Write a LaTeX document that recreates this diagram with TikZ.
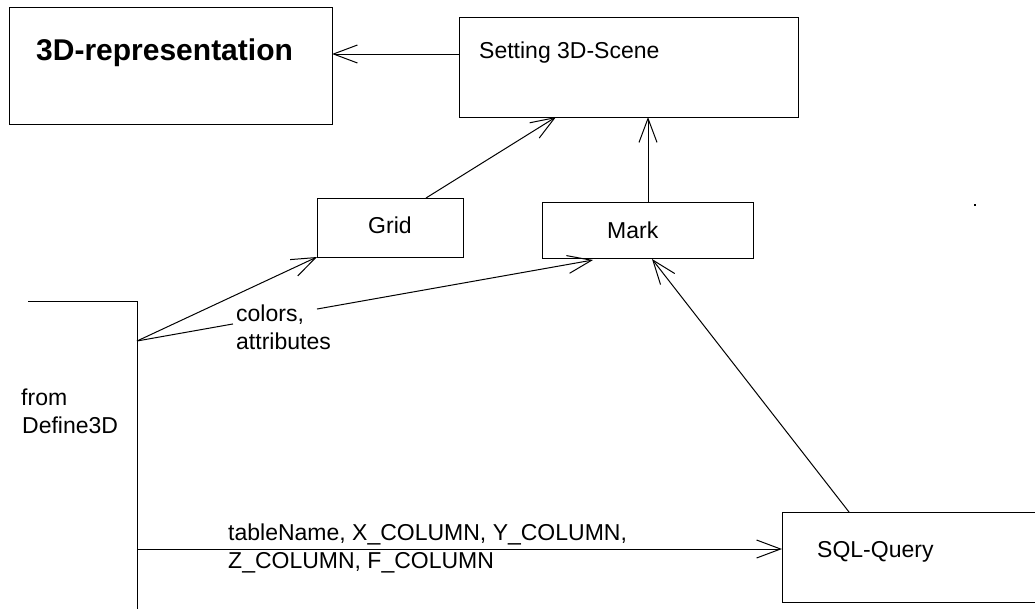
\documentclass[tikz,border=0pt]{standalone}
\usepackage{fontspec}
\setmainfont{Liberation Sans}
\usetikzlibrary{arrows.meta,calc}
\begin{document}
\begin{tikzpicture}[x=1pt,y=-1pt,
  box/.style={draw, line width=1pt, rectangle, anchor=north west, inner sep=0pt},
  txt/.style={anchor=base west, inner sep=0pt, font=\fontsize{23}{26}\selectfont},
  conn/.style={line width=1pt},
  arr/.style={line width=1pt, -{Straight Barb[length=24pt,width=18pt,line width=1pt]}}]
\useasboundingbox (0,0) rectangle (1035,608);
\clip (0,0) rectangle (1035,608);
% boxes
\node[box, minimum width=323pt, minimum height=117pt] (rep) at (9,7) {};
\node[box, minimum width=339pt, minimum height=100pt] (scene) at (459,17) {};
\node[box, minimum width=146pt, minimum height=59pt] (grid) at (317,198) {};
\node[box, minimum width=211pt, minimum height=56pt] (mark) at (542,202) {};
\node[box, minimum width=270pt, minimum height=90pt] (sql) at (782,512) {};
% Define3D bracket
\coordinate (dtl) at (28,301);
\coordinate (dtr) at (137,301);
\coordinate (dbot) at (137,612);
\draw[conn] (dtl) -- (dtr) -- (dbot);
\coordinate (dA) at (137,341);
\coordinate (dB) at (137,549);
% texts
\node[txt, font=\fontsize{30}{34}\selectfont\bfseries] (trep) at (36,60) {3D-representation};
\node[txt] (tscene) at (479,58) {Setting 3D-Scene};
\node[txt] (tgrid) at (368,233) {Grid};
\node[txt] (tmark) at (607,238) {Mark};
\node[txt] (tsql) at (817,557) {SQL-Query};
\node[txt] (tfrom) at (21,405) {from};
\node[txt] (tdef) at (22,433) {Define3D};
\node[txt] (tcol) at (236,321) {colors,};
\node[txt] (tatt) at (236,349) {attributes};
\node[txt] (ttab1) at (228,540) {tableName, X\_COLUMN, Y\_COLUMN,};
\node[txt] (ttab2) at (228,568) {Z\_COLUMN, F\_COLUMN};
% connectors
\coordinate (s1) at (459,54);
\coordinate (r1) at (332,54);
\draw[arr] (s1) -- (r1);
\coordinate (g1) at (426,198);
\coordinate (s2) at (556,117);
\draw[arr] (g1) -- (s2);
\coordinate (m1) at (648,202);
\coordinate (s3) at (648,117);
\draw[arr] (m1) -- (s3);
\coordinate (g2) at (317,257);
\draw[arr] (dA) -- (g2);
\coordinate (m2) at (593,260);
\draw[conn] (dA) -- ($(dA)!0.2105!(m2)$);
\draw[arr] ($(dA)!0.3947!(m2)$) -- (m2);
\coordinate (q1) at (849,512);
\coordinate (m3) at (652,259);
\draw[arr] (q1) -- (m3);
\coordinate (q2) at (782,549);
\draw[arr] (dB) -- (q2);
% stray dot
\fill (974,204) rectangle (976,206);
\end{tikzpicture}
\end{document}
